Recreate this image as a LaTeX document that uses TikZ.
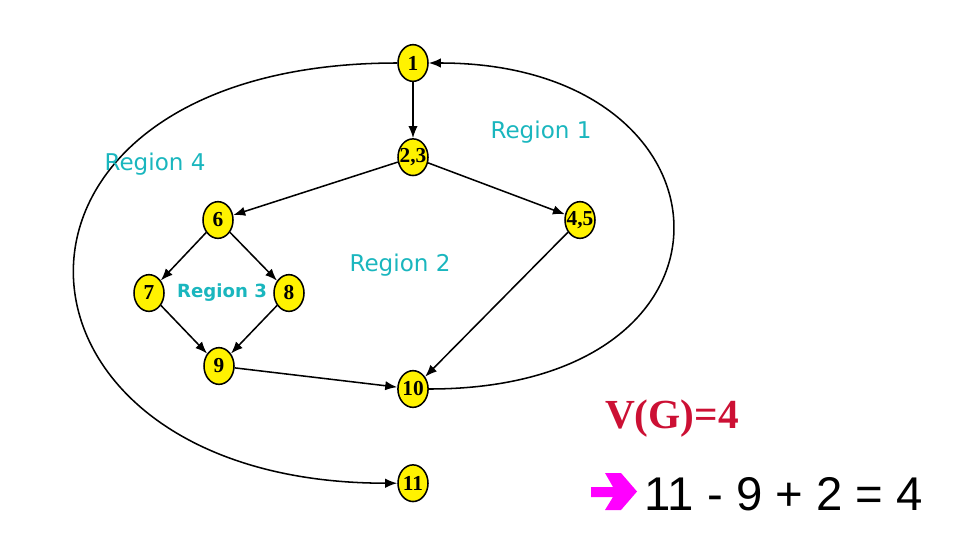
\documentclass[tikz,border=0pt]{standalone}
\usepackage{fontspec}
\setmainfont{Liberation Serif}
\newfontfamily\regionfont{DejaVu Sans}
\newfontfamily\sumfont{Liberation Sans}
\usepackage{tikz}
\usetikzlibrary{arrows.meta}
\usetikzlibrary{positioning}
\usetikzlibrary{shapes.geometric}
\tikzset{>={Latex[length=9pt,width=7pt]}}
\definecolor{regioncol}{RGB}{26,182,190}
\definecolor{vgred}{RGB}{204,16,52}
\definecolor{arrowpink}{RGB}{255,0,255}

\begin{document}
\begin{tikzpicture}[x=0.75pt,y=-0.75pt,node distance=42pt,line width=1.15pt,
    vertex/.style={ellipse,draw,fill=yellow,inner sep=0pt,minimum width=22.5pt,minimum height=27.5pt,
        font=\bfseries\fontsize{16}{16}\selectfont},
    region/.style={anchor=base,text=regioncol,font=\regionfont\fontsize{17.3}{17.3}\selectfont}]
\useasboundingbox (0,0) rectangle (962,543);
\node [vertex] (n1) at (413,63) {1};
\node [vertex, below=of n1] (n23) {\makebox[0pt]{2,3}};
\node [vertex] (n45) at (580,220) {\makebox[0pt]{4,5}};
\node [vertex] (n6) at (218,220) {6};
\node [vertex] (n7) at (149,293) {7};
\node [vertex] (n8) at (289,293) {8};
\node [vertex] (n9) at (219,366) {9};
\node [vertex] (n10) at (413,389) {10};
\node [vertex, below=of n10] (n11) {11};

\draw [->] (n1)--(n23);
\draw [->] (n23)--(n6);
\draw [->] (n23)--(n45);
\draw [->] (n6)--(n7);
\draw [->] (n6)--(n8);
\draw [->] (n7)--(n9);
\draw [->] (n8)--(n9);
\draw [->] (n9)--(n10);
\draw [->] (n45)--(n10);
\draw [->] (n10.east) .. controls +(335,0) and +(315,0) .. (n1.east);
\draw [->] (n1.west) .. controls +(-440,0) and +(-420,0) .. (n11.west);

\node [region] (r1) at (541,138) {Region 1};
\node [region] (r2) at (400,271) {Region 2};
\node [region, font=\regionfont\bfseries\fontsize{13.6}{13.6}\selectfont] (r3) at (222,297) {Region 3};
\node [region] (r4) at (155,170) {Region 4};

\node [anchor=base, text=vgred, font=\bfseries\fontsize{31}{31}\selectfont] (vg) at (672,428) {V(G)=4};
\fill [arrowpink] (591,487) -- (613,487) -- (605,473) -- (621,473) -- (637,491.5) -- (621,510) -- (605,510) -- (613,497) -- (591,497) -- cycle;
\node [anchor=base, font=\sumfont\fontsize{35.5}{35.5}\selectfont] (sum) at (784,510) {11 - 9 + 2 = 4};
\end{tikzpicture}
\end{document}
